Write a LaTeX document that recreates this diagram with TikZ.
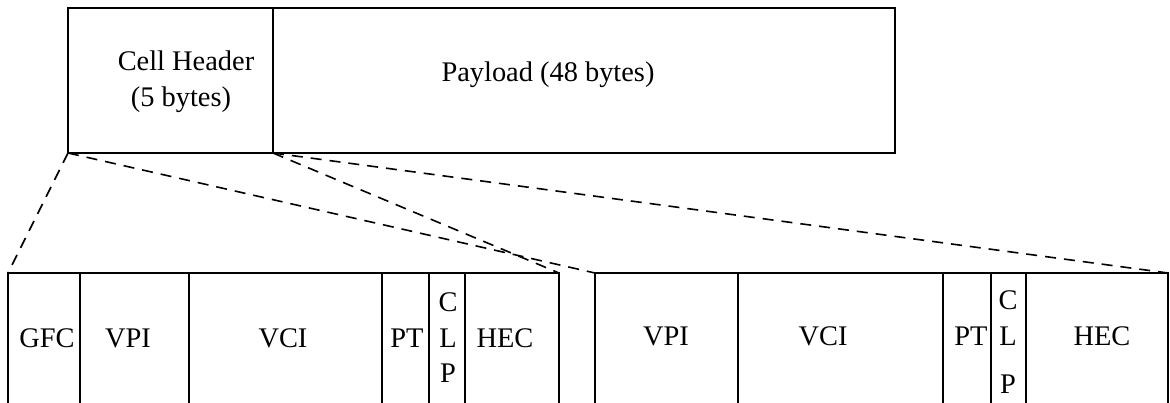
\documentclass[tikz,border=0pt]{standalone}
\usepackage{fontspec}
\setmainfont{Liberation Serif}
\tikzset{
  cell/.style={draw, line width=1.4pt, inner sep=0pt, outer sep=0pt, anchor=north west},
  lbl/.style={inner sep=0pt, anchor=base, font=\fontsize{28.4}{34}\selectfont},
  link/.style={dash pattern=on 11pt off 8pt, line width=1.6pt}
}
\begin{document}
\begin{tikzpicture}[x=1pt, y=-1pt]
  \useasboundingbox (0,0) rectangle (1170,402);
  \clip (0,0) rectangle (1170,402);

  % ATM cell: header and payload
  \node[cell, minimum width=205pt, minimum height=145pt] (hdr) at (68,8) {};
  \node[cell, minimum width=622pt, minimum height=145pt] (pay) at (273,8) {};
  \node[lbl] (hdrA) at (186,70) {Cell Header};
  \node[lbl] (hdrB) at (181,106) {(5 bytes)};
  \node[lbl] (payT) at (548,81) {Payload (48 bytes)};

  % UNI header fields
  \node[cell, minimum width=72pt,  minimum height=142pt] (gfc)  at (8,273) {};
  \node[cell, minimum width=109pt, minimum height=142pt] (vpia) at (80,273) {};
  \node[cell, minimum width=193pt, minimum height=142pt] (vcia) at (189,273) {};
  \node[cell, minimum width=47pt,  minimum height=142pt] (pta)  at (382,273) {};
  \node[cell, minimum width=36pt,  minimum height=142pt] (clpa) at (429,273) {};
  \node[cell, minimum width=94pt,  minimum height=142pt] (heca) at (465,273) {};

  \node[lbl] (gfcT)  at (47,347)  {GFC};
  \node[lbl] (vpiaT) at (128,347) {VPI};
  \node[lbl] (vciaT) at (283,347) {VCI};
  \node[lbl] (ptaT)  at (407,347) {PT};
  \node[lbl] (clpaC) at (448,311) {C};
  \node[lbl] (clpaL) at (448,347) {L};
  \node[lbl] (clpaP) at (448,382) {P};
  \node[lbl] (hecaT) at (505,347) {HEC};

  % NNI header fields
  \node[cell, minimum width=143pt, minimum height=142pt] (vpib) at (595,273) {};
  \node[cell, minimum width=205pt, minimum height=142pt] (vcib) at (738,273) {};
  \node[cell, minimum width=48pt,  minimum height=142pt] (ptb)  at (943,273) {};
  \node[cell, minimum width=35pt,  minimum height=142pt] (clpb) at (991,273) {};
  \node[cell, minimum width=142pt, minimum height=142pt] (hecb) at (1026,273) {};

  \node[lbl] (vpibT) at (666,345)  {VPI};
  \node[lbl] (vcibT) at (823,345)  {VCI};
  \node[lbl] (ptbT)  at (971,345)  {PT};
  \node[lbl] (clpbC) at (1008,309) {C};
  \node[lbl] (clpbL) at (1008,345) {L};
  \node[lbl] (clpbP) at (1008,393) {P};
  \node[lbl] (hecbT) at (1102,345) {HEC};

  % expansion lines from the header to each format
  \draw[link] (hdr.south west) -- (gfc.north west);
  \draw[link] (hdr.south west) -- (vpib.north west);
  \draw[link] (hdr.south east) -- (heca.north east);
  \draw[link] (hdr.south east) -- (hecb.north east);
\end{tikzpicture}
\end{document}
